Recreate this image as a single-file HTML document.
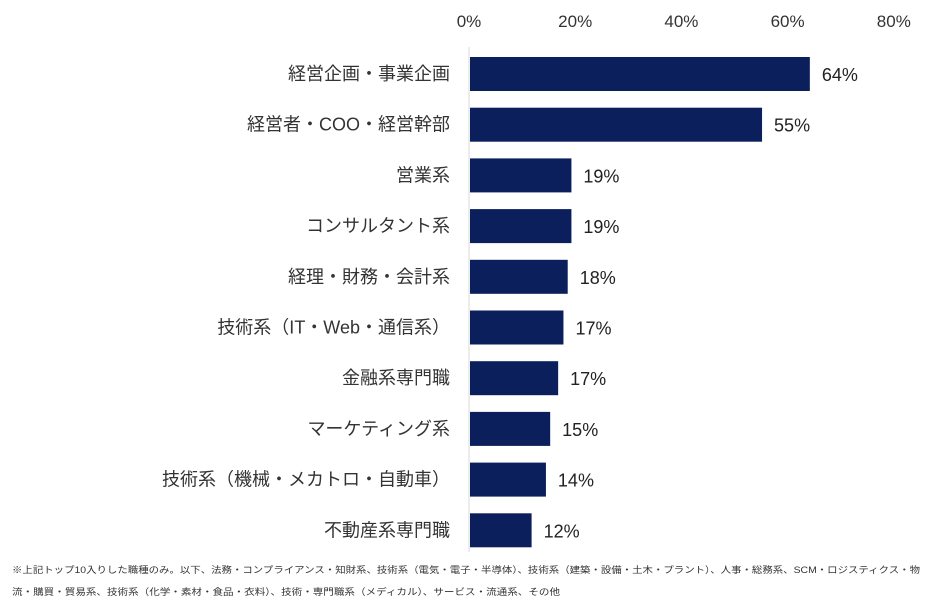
<!DOCTYPE html>
<html><head><meta charset="utf-8"><style>
body{margin:0;background:#fff;}
svg{display:block;font-family:"Liberation Sans","Noto Sans CJK JP",sans-serif;}
</style></head><body>
<svg id="chart" width="940" height="605" viewBox="0 0 940 605">
<g id="ticks"></g><g id="bars"></g>
<text x="12" y="573" font-size="9.2" fill="#333" textLength="908" lengthAdjust="spacingAndGlyphs">※上記トップ10入りした職種のみ。以下、法務・コンプライアンス・知財系、技術系（電気・電子・半導体）、技術系（建築・設備・土木・プラント）、人事・総務系、SCM・ロジスティクス・物</text>
<text x="12" y="595" font-size="9.2" fill="#333" textLength="548" lengthAdjust="spacingAndGlyphs">流・購買・貿易系、技術系（化学・素材・食品・衣料）、技術・専門職系（メディカル）、サービス・流通系、その他</text>
</svg>
<script>
const categories=["経営企画・事業企画","経営者・COO・経営幹部","営業系","コンサルタント系","経理・財務・会計系","技術系（IT・Web・通信系）","金融系専門職","マーケティング系","技術系（機械・メカトロ・自動車）","不動産系専門職"];
const values=[64,55,19.1,19.1,18.4,17.6,16.6,15.1,14.3,11.6];
const valueLabels=["64%","55%","19%","19%","18%","17%","17%","15%","14%","12%"];
const tickValues=[0,20,40,60,80];
const NS="http://www.w3.org/2000/svg";
const x0=470,pxPer=5.31,top0=57,pitch=50.7,bh=34;
const xs=v=>x0+v*pxPer;
const yc=i=>top0+i*pitch;
function mk(t,a){const e=document.createElementNS(NS,t);for(const k in a)e.setAttribute(k,a[k]);return e;}
const tg=document.getElementById('ticks');
const ax=mk('line',{x1:469,x2:469,y1:47,y2:552,stroke:'#d9d9d9','stroke-width':1});


tg.appendChild(ax);
tickValues.forEach(v=>{const t=mk('text',{x:xs(v)-1,y:27,'font-size':17,fill:'#333','text-anchor':'middle'});


t.textContent=v+'%';tg.appendChild(t);});
const bg=document.getElementById('bars');
categories.forEach((c,i)=>{
const y=yc(i);
const r=mk('rect',{x:x0,y:y,width:xs(values[i])-x0,height:bh,fill:'#0a1f5c'});


bg.appendChild(r);
const l=mk('text',{x:450,y:y+bh/2+6,'font-size':18,fill:'#333','text-anchor':'end'});


l.textContent=c;bg.appendChild(l);
const v=mk('text',{x:xs(values[i])+12,y:y+bh/2+7,'font-size':18,fill:'#222'});


v.textContent=valueLabels[i];bg.appendChild(v);
});
</script>
</body></html>
